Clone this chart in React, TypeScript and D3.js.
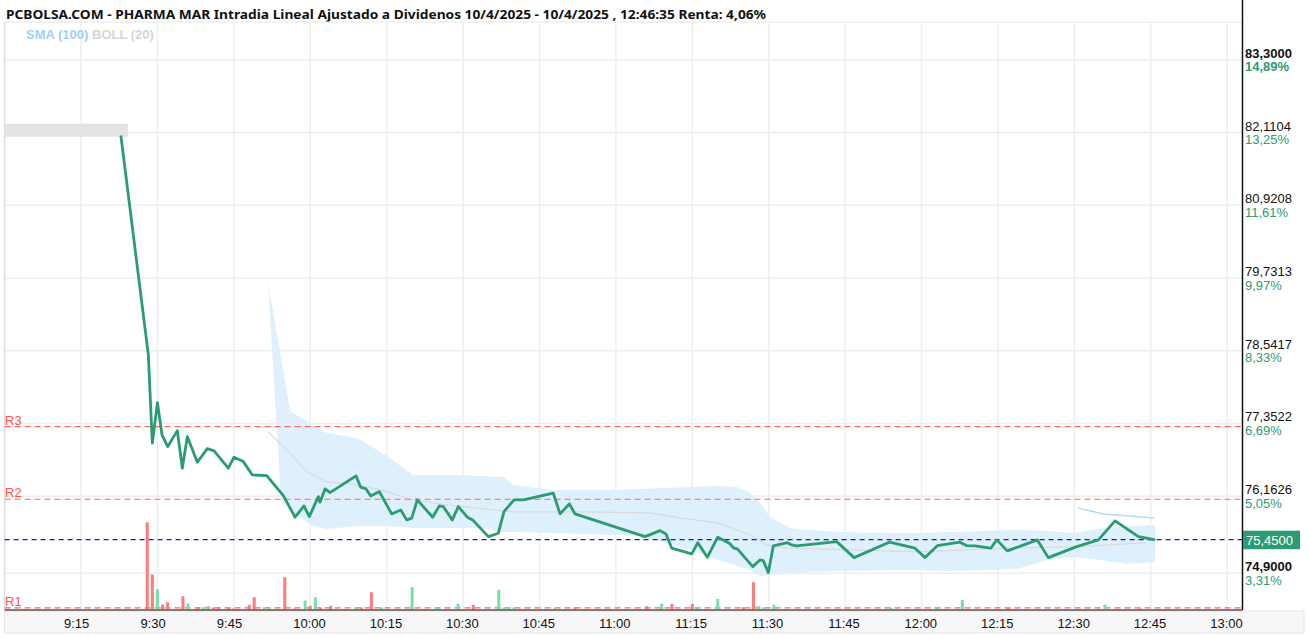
import React from "react";
import * as d3 from "d3";

const W = 1309;
const H = 638;

const title =
  "PCBOLSA.COM - PHARMA MAR Intradia Lineal Ajustado a Dividenos 10/4/2025 - 10/4/2025 , 12:46:35 Renta: 4,06%";

// reference close used for the % column
const prevClose = 72.502;
const lastPrice = 75.45;

const priceTicks = [83.3, 82.1104, 80.9208, 79.7313, 78.5417, 77.3522, 76.1626, 74.9];
const boldTicks = [83.3, 74.9];

const levelNames = ["R3", "R2", "R1"];
const levelValues = [77.3, 76.113, 74.334];

// opening auction marker
const auctionTimes = ["9:00:00", "9:24:15"];
const auctionPrice = 82.15;

const priceTimes = [
  "9:22:51", "9:28:13", "9:29:00", "9:30:00", "9:30:54", "9:32:01", "9:33:54", "9:34:53",
  "9:35:52", "9:37:50", "9:39:47", "9:41:07", "9:43:55", "9:45:02", "9:46:52", "9:48:38",
  "9:51:27", "9:54:43", "9:57:01", "9:58:46", "9:59:49", "10:01:35", "10:01:55", "10:02:54",
  "10:03:53", "10:08:59", "10:09:54", "10:10:57", "10:11:52", "10:13:34", "10:15:59", "10:17:46",
  "10:18:56", "10:19:55", "10:21:01", "10:24:02", "10:25:20", "10:26:07", "10:27:53", "10:29:04",
  "10:30:50", "10:31:53", "10:34:57", "10:36:55", "10:38:02", "10:40:00", "10:41:50", "10:47:43",
  "10:49:02", "10:50:52", "10:51:58", "11:05:43", "11:08:40", "11:09:50", "11:10:58", "11:14:53",
  "11:16:04", "11:17:57", "11:19:59", "11:22:16", "11:23:11", "11:23:50", "11:26:52", "11:28:17",
  "11:28:56", "11:29:55", "11:30:54", "11:33:39", "11:34:31", "11:35:30", "11:43:21", "11:46:45",
  "11:53:40", "11:58:43", "12:00:41", "12:03:06", "12:07:33", "12:08:52", "12:10:30", "12:13:35",
  "12:14:46", "12:16:50", "12:22:44", "12:24:53", "12:30:28", "12:34:42", "12:37:59", "12:42:34",
  "12:45:38",
];
const priceValues = [
  82.045, 78.473, 77.029, 77.693, 77.165, 76.973, 77.235, 76.62,
  77.137, 76.718, 76.94, 76.903, 76.62, 76.8, 76.728, 76.51,
  76.5, 76.171, 75.818, 76.003, 75.828, 76.155, 76.063, 76.281,
  76.22, 76.494, 76.309, 76.281, 76.166, 76.237, 75.872, 75.937,
  75.774, 75.802, 76.101, 75.818, 76.003, 75.992, 75.774, 75.992,
  75.818, 75.774, 75.5, 75.556, 75.91, 76.101, 76.101, 76.211,
  75.872, 76.036, 75.872, 75.5, 75.599, 75.545, 75.311, 75.218,
  75.402, 75.163, 75.491, 75.393, 75.311, 75.299, 75.01, 75.119,
  75.108, 74.912, 75.348, 75.402, 75.365, 75.348, 75.419, 75.157,
  75.409, 75.311, 75.157, 75.353, 75.409, 75.353, 75.348, 75.311,
  75.447, 75.267, 75.447, 75.157, 75.337, 75.447, 75.757, 75.5,
  75.45,
];

// Bollinger (20)
const bandTimes = [
  "9:51:43", "9:54:16", "9:56:02", "9:57:59", "10:00:32", "10:03:17", "10:09:11", "10:15:04",
  "10:20:10", "10:28:49", "10:33:20", "10:37:50", "10:39:48", "10:47:40", "10:59:26", "11:04:44",
  "11:14:33", "11:19:04", "11:23:47", "11:26:20", "11:28:17", "11:30:15", "11:34:11", "11:37:31",
  "11:44:35", "11:53:49", "11:59:07", "12:05:35", "12:18:44", "12:24:38", "12:29:44", "12:35:02",
  "12:40:20", "12:45:50",
];
const bandUpper = [
  79.668, 78.424, 77.557, 77.459, 77.312, 77.197, 77.116, 76.821,
  76.51, 76.51, 76.494, 76.478, 76.346, 76.265, 76.265, 76.281,
  76.314, 76.33, 76.314, 76.215, 76.052, 75.823, 75.643, 75.61,
  75.577, 75.561, 75.561, 75.577, 75.61, 75.594, 75.561, 75.627,
  75.676, 75.692,
];
const bandLower = [
  79.668, 76.101, 75.97, 75.823, 75.676, 75.627, 75.676, 75.676,
  75.643, 75.643, 75.643, 75.577, 75.577, 75.561, 75.528, 75.512,
  75.283, 75.152, 75.021, 74.956, 74.858, 74.874, 74.89, 74.923,
  74.939, 74.956, 74.956, 74.939, 74.972, 75.119, 75.168, 75.119,
  75.054, 75.087,
];
const midTimes = [
  "9:51:43", "9:55:27", "9:59:23", "10:03:17", "10:08:23", "10:13:41", "10:20:10", "10:26:51",
  "10:39:48", "10:52:58", "11:06:42", "11:12:35", "11:19:51", "11:26:20", "11:29:40", "11:32:48",
  "11:59:07", "12:18:44", "12:29:44", "12:43:52",
];
const midValues = [
  77.214, 76.919, 76.559, 76.395, 76.363, 76.265, 76.101, 76.019,
  75.905, 75.905, 75.888, 75.807, 75.725, 75.528, 75.365, 75.316,
  75.25, 75.316, 75.332, 75.398,
];

// SMA (100)
const smaTimes = ["12:30:43", "12:35:37", "12:45:38"];
const smaValues = [75.97, 75.872, 75.806];

// volume per minute, side: u = up tick, d = down tick
const volTimes = [
  "9:28", "9:29", "9:30", "9:31", "9:32", "9:35", "9:36", "9:38", "9:39", "9:40", "9:41", "9:42",
  "9:44", "9:45", "9:48", "9:49", "9:51", "9:52", "9:55", "9:57", "9:59", "10:00", "10:01", "10:02",
  "10:04", "10:09", "10:10", "10:12", "10:14", "10:20", "10:25", "10:29", "10:32", "10:37", "10:38",
  "10:39", "10:40", "10:48", "10:52", "11:06", "11:09", "11:11", "11:15", "11:16", "11:20", "11:25",
  "11:27", "11:28", "11:29", "11:31", "11:54", "12:03", "12:08", "12:17", "12:36", "12:43",
];
const volValues = [
  8730, 3500, 2000, 500, 730, 1330, 600, 230, 230, 330, 200, 230,
  230, 100, 470, 1230, 230, 100, 3230, 100, 900, 370, 1230, 200,
  370, 230, 200, 1730, 200, 2230, 230, 570, 470, 1970, 200,
  230, 200, 130, 230, 330, 570, 570, 570, 230, 1070, 230,
  2730, 330, 200, 470, 150, 150, 970, 150, 470, 100,
];
const volSide = [
  "d", "d", "u", "d", "d", "d", "u", "d", "u", "u", "d", "d",
  "d", "d", "d", "d", "u", "u", "d", "d", "u", "d", "u", "d",
  "d", "u", "d", "d", "u", "u", "u", "u", "d", "u", "u",
  "u", "u", "u", "d", "d", "u", "d", "d", "u", "u", "d",
  "d", "u", "u", "u", "u", "u", "u", "d", "u", "d",
];

const GREEN = "#2b9c70";
const AXIS_FONT = "'Liberation Sans', Arial, sans-serif";

const parseT = d3.timeParse("%H:%M:%S");
const parseM = d3.timeParse("%H:%M");
const locale = d3.formatLocale({ decimal: ",", thousands: ".", grouping: [3], currency: ["", "€"] });
const f4 = locale.format(".4f");
const f2 = locale.format(".2f");

export default function App() {
  const left = 4.6;
  const right = 1242.5;
  const top = 22;
  const bottom = 610;

  const x = d3
    .scaleTime()
    .domain([parseT("9:00:00") as Date, parseT("13:03:00") as Date])
    .range([left, right]);
  const y = d3.scaleLinear().domain([74.3, 83.92]).range([bottom, top]);
  const vol = d3.scaleLinear().domain([0, 9000]).range([0, 90]);

  const xTicks = x.ticks(d3.timeMinute.every(15) as d3.TimeInterval).filter((t) => t > x.domain()[0]);
  const fmtTime = d3.timeFormat("%-H:%M");

  const price = priceTimes.map((t, i) => ({ t: parseT(t) as Date, v: priceValues[i] }));
  const band = bandTimes.map((t, i) => ({ t: parseT(t) as Date, hi: bandUpper[i], lo: bandLower[i] }));
  const mid = midTimes.map((t, i) => ({ t: parseT(t) as Date, v: midValues[i] }));
  const sma = smaTimes.map((t, i) => ({ t: parseT(t) as Date, v: smaValues[i] }));

  const line = d3
    .line<{ t: Date; v: number }>()
    .x((d) => x(d.t))
    .y((d) => y(d.v));
  const area = d3
    .area<{ t: Date; hi: number; lo: number }>()
    .x((d) => x(d.t))
    .y0((d) => y(d.lo))
    .y1((d) => y(d.hi));

  const volBase = bottom - 0.5;
  const ax0 = x(parseT(auctionTimes[0]) as Date);
  const ax1 = x(parseT(auctionTimes[1]) as Date);
  const lastY = y(lastPrice);

  return (
    <svg
      width={W}
      height={H}
      style={{ position: "absolute", left: 0, top: 0, background: "#fff" }}
      fontFamily={AXIS_FONT}
    >
      {/* title */}
      <text
        x={6}
        y={18.5}
        fontFamily="'Noto Sans', 'Open Sans', sans-serif"
        fontWeight="bold"
        fontSize={13}
        fill="#111"
        textLength={760}
        lengthAdjust="spacingAndGlyphs"
      >
        {title}
      </text>
      <line x1={left} x2={right} y1={top} y2={top} stroke="#e6e6e6" />

      {/* grid */}
      {priceTicks.map((v) => (
        <line key={"h" + v} x1={left} x2={right} y1={y(v)} y2={y(v)} stroke="#eeeeee" strokeWidth={1.5} />
      ))}
      {xTicks.map((t) => (
        <line key={"v" + t.getTime()} x1={x(t)} x2={x(t)} y1={top} y2={bottom} stroke="#eeeeee" strokeWidth={1.5} />
      ))}
      <line x1={left} x2={left} y1={top} y2={bottom} stroke="#dcdcdc" strokeWidth={1.5} />

      {/* legend */}
      <text x={26} y={39} fontSize={13} fontWeight="bold">
        <tspan fill="#9fd0f5">SMA (100)</tspan>
        <tspan fill="#d6d6d6"> BOLL (20)</tspan>
      </text>

      {/* bollinger */}
      <path d={area(band) || ""} fill="#def0fc" />
      <path d={line(mid) || ""} fill="none" stroke="#dadada" strokeWidth={1.2} />
      <path d={line(sma) || ""} fill="none" stroke="#b5dcf6" strokeWidth={1.5} />

      {/* support / resistance */}
      {levelValues.map((v, i) => (
        <g key={levelNames[i]}>
          <line x1={left} x2={right} y1={y(v)} y2={y(v)} stroke="#ff6464" strokeDasharray="6,4" strokeWidth={1.1} />
          <text x={5} y={y(v) - 2} fontSize={13} fill="#ff5252">
            {levelNames[i]}
          </text>
        </g>
      ))}
      <line x1={left} x2={right} y1={lastY} y2={lastY} stroke="#1414f0" strokeDasharray="5,4" strokeWidth={1.2} />

      {/* volume */}
      {volTimes.map((t, i) => {
        const h = vol(volValues[i]);
        const cx = x(parseM(t) as Date);
        return (
          <rect
            key={"b" + t}
            x={cx - 1.5}
            y={volBase - h}
            width={3}
            height={h}
            fill={volSide[i] === "u" ? "#7bdcab" : "#ff7b7b"}
          />
        );
      })}

      {/* auction marker */}
      <rect x={ax0} y={y(auctionPrice) - 6.5} width={ax1 - ax0} height={13} fill="#e3e3e3" />

      {/* price */}
      <path
        d={line(price) || ""}
        fill="none"
        stroke={GREEN}
        strokeWidth={2.8}
        strokeLinejoin="round"
        strokeLinecap="round"
      />

      {/* x axis */}
      <rect x={left} y={bottom + 1} width={1304 - left} height={22} fill="#f7f7f7" stroke="#e4e4e4" />
      <line x1={left} x2={right} y1={bottom} y2={bottom} stroke="#555" strokeWidth={1.5} />
      {xTicks.map((t) => (
        <text key={"xl" + t.getTime()} x={x(t) - 17} y={627.5} fontSize={13} fill="#111">
          {fmtTime(t)}
        </text>
      ))}

      {/* y axis */}
      <line x1={right} x2={right} y1={0} y2={bottom} stroke="#111" strokeWidth={1.5} />
      {priceTicks.map((v) => {
        const b = boldTicks.includes(v);
        const pct = (v / prevClose - 1) * 100;
        return (
          <g key={"yl" + v}>
            <text x={1245} y={y(v) - 2} fontSize={13} fill="#111" fontWeight={b ? "bold" : "normal"}>
              {f4(v)}
            </text>
            <text x={1245} y={y(v) + 11.5} fontSize={13} fill={GREEN} fontWeight={v === priceTicks[0] ? "bold" : "normal"}>
              {f2(pct) + "%"}
            </text>
          </g>
        );
      })}
      <rect x={1243} y={lastY - 9} width={57} height={18.5} fill={GREEN} />
      <text x={1246} y={lastY + 5} fontSize={13} fill="#fff">
        {f4(lastPrice)}
      </text>
    </svg>
  );
}
